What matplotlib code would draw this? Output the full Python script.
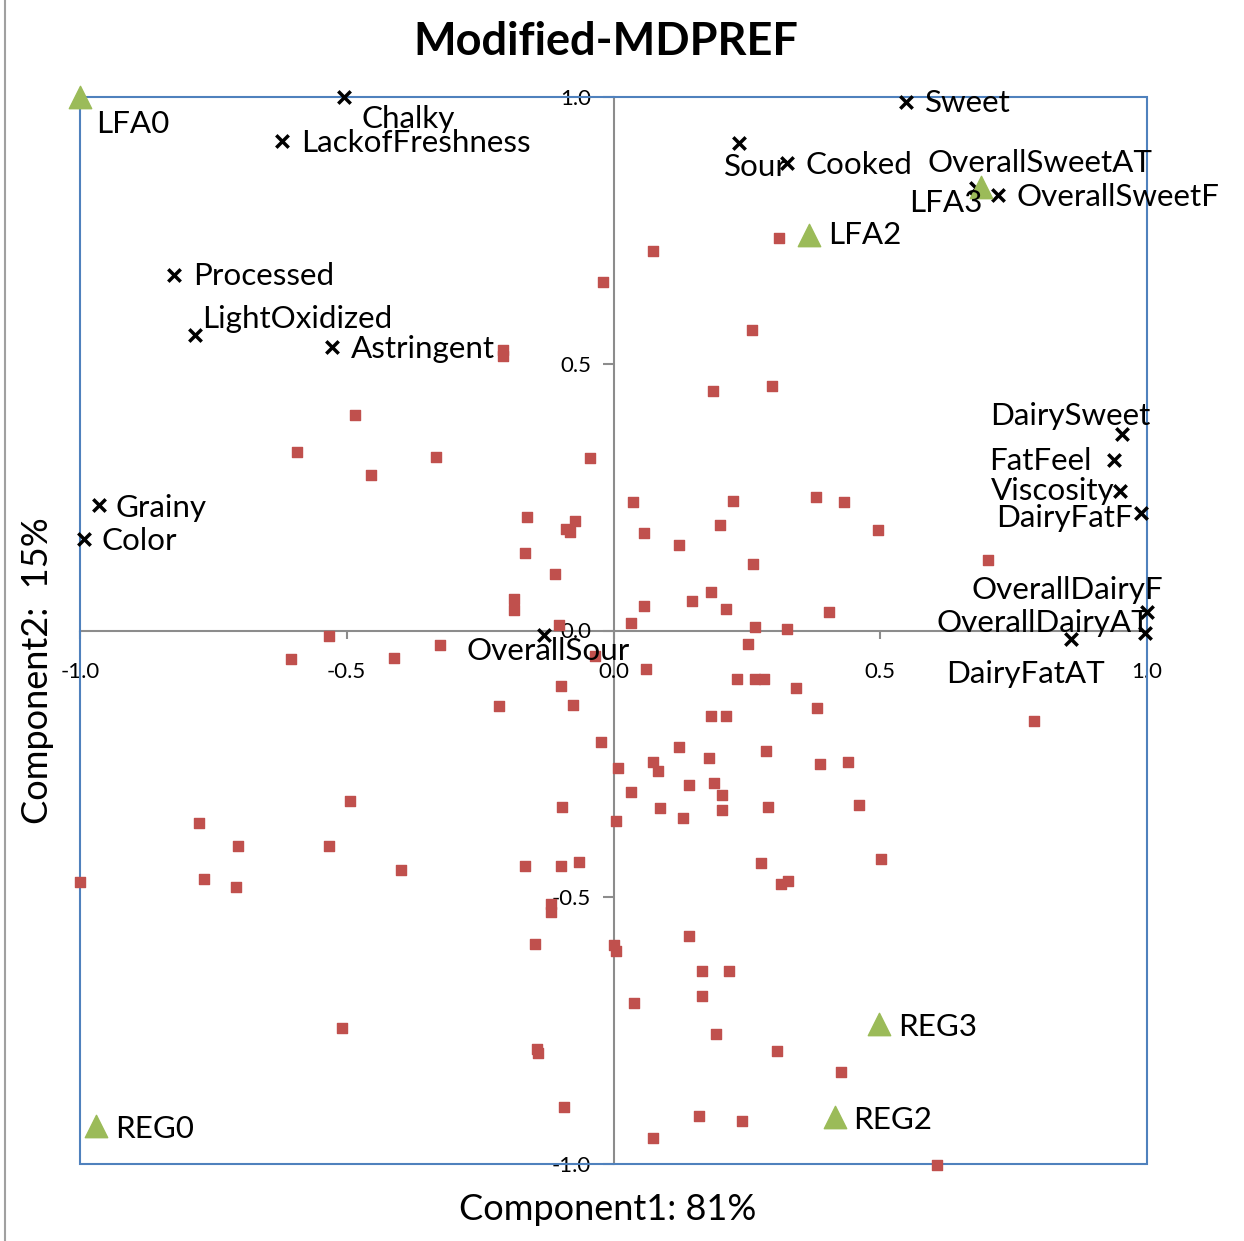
import matplotlib
matplotlib.use("Agg")
import matplotlib.pyplot as plt
from matplotlib.patches import Rectangle

plt.rcParams['font.family'] = ['Lato', 'DejaVu Sans']

# products (red squares)
prod_x = [-0.020, 0.074, 0.310, 0.259, 0.186, 0.297, -0.208, -0.208, -0.485, -0.594,
          -0.332, -0.454, -0.044, -0.163, -0.072, -0.089, -0.082, -0.166, -0.110, -0.186,
          -0.186, -0.103, -0.534, -0.326, -0.604, -0.412, -0.035, -0.099, -0.214, -0.075,
          -0.023, -0.493, -0.096, -0.777, -0.704, -0.534, -0.399, -0.166, -0.099, -0.065,
          -0.768, -0.708, -1.000, -0.118, -0.118, -0.148, 0.001, 0.005, -0.508, -0.144,
          -0.141, -0.093, 0.036, 0.224, 0.380, 0.432, 0.057, 0.200, 0.495, 0.122,
          0.262, 0.182, 0.147, 0.057, 0.210, 0.404, 0.032, 0.265, 0.325, 0.702,
          0.252, 0.061, 0.231, 0.265, 0.283, 0.342, 0.381, 0.182, 0.210, 0.123,
          0.286, 0.179, 0.074, 0.387, 0.439, 0.009, 0.084, 0.141, 0.189, 0.032,
          0.203, 0.088, 0.130, 0.203, 0.290, 0.460, 0.005, 0.276, 0.502, 0.328,
          0.314, 0.788, 0.141, 0.165, 0.217, 0.165, 0.039, 0.192, 0.307, 0.426,
          0.161, 0.241, 0.074, 0.606]
prod_y = [0.653, 0.712, 0.736, 0.563, 0.448, 0.458, 0.525, 0.514, 0.403, 0.334,
          0.326, 0.292, 0.323, 0.213, 0.205, 0.191, 0.184, 0.146, 0.105, 0.059,
          0.038, 0.010, -0.010, -0.028, -0.054, -0.051, -0.047, -0.104, -0.142, -0.139,
          -0.209, -0.320, -0.330, -0.361, -0.403, -0.403, -0.448, -0.442, -0.442, -0.434,
          -0.465, -0.480, -0.472, -0.513, -0.528, -0.587, -0.590, -0.601, -0.746, -0.785,
          -0.792, -0.894, 0.240, 0.243, 0.250, 0.240, 0.183, 0.198, 0.188, 0.160,
          0.125, 0.073, 0.055, 0.045, 0.041, 0.034, 0.014, 0.006, 0.003, 0.133,
          -0.025, -0.073, -0.090, -0.090, -0.090, -0.108, -0.146, -0.160, -0.160, -0.219,
          -0.226, -0.239, -0.247, -0.250, -0.247, -0.257, -0.264, -0.289, -0.285, -0.302,
          -0.309, -0.333, -0.351, -0.337, -0.330, -0.328, -0.358, -0.435, -0.428, -0.469,
          -0.475, -0.169, -0.573, -0.639, -0.639, -0.685, -0.699, -0.757, -0.789, -0.827,
          -0.910, -0.920, -0.952, -1.001]

# attributes (black crosses)
attr_names = ['Chalky', 'LackofFreshness', 'Processed', 'LightOxidized', 'Astringent',
              'Grainy', 'Color', 'OverallSour', 'Sweet', 'Sour', 'Cooked',
              'OverallSweetAT', 'OverallSweetF', 'DairySweet', 'FatFeel', 'Viscosity',
              'DairyFatF', 'OverallDairyF', 'OverallDairyAT', 'DairyFatAT']
attr_x = [-0.506, -0.622, -0.824, -0.785, -0.528, -0.965, -0.993, -0.131, 0.548, 0.235,
          0.325, 0.680, 0.721, 0.954, 0.938, 0.949, 0.989, 1.000, 0.997, 0.858]
attr_y = [1.000, 0.917, 0.666, 0.553, 0.532, 0.236, 0.171, -0.009, 0.990, 0.913,
          0.876, 0.829, 0.816, 0.368, 0.319, 0.261, 0.220, 0.034, -0.005, -0.015]

# consumer segments (green triangles)
seg_names = ['LFA0', 'LFA2', 'LFA3', 'REG0', 'REG2', 'REG3']
seg_x = [-1.000, 0.366, 0.689, -0.970, 0.415, 0.497]
seg_y = [1.000, 0.741, 0.832, -0.929, -0.911, -0.737]

ticks = [-1.0, -0.5, 0.0, 0.5, 1.0]

# label offsets in pixels (dx, dy, ha)
offs = {
    'Chalky': (18, -22, 'left'), 'LackofFreshness': (19, -2, 'left'),
    'Processed': (19, -1, 'left'), 'LightOxidized': (7, 16, 'left'),
    'Astringent': (19, -2, 'left'), 'Grainy': (17, -3, 'left'),
    'Color': (18, -2, 'left'), 'OverallSour': (-77, -16, 'left'),
    'Sweet': (19, -1, 'left'), 'Sour': (-15, -24, 'left'),
    'Cooked': (19, -2, 'left'), 'OverallSweetAT': (-49, 25, 'left'),
    'OverallSweetF': (18, -2, 'left'), 'DairySweet': (28, 18, 'right'),
    'FatFeel': (-22, -1, 'right'), 'Viscosity': (-5, 0, 'right'),
    'DairyFatF': (-8, -5, 'right'), 'OverallDairyF': (16, 22, 'right'),
    'OverallDairyAT': (5, 10, 'right'), 'DairyFatAT': (34, -35, 'right'),
    'LFA0': (16, -27, 'left'), 'LFA2': (19, 0, 'left'),
    'LFA3': (1, -16, 'right'), 'REG0': (19, -3, 'left'),
    'REG2': (18, -3, 'left'), 'REG3': (19, -3, 'left'),
}

fig = plt.figure(figsize=(12.44, 12.41), dpi=100)
ax = fig.add_axes([80/1244, 77/1241, 1067/1244, 1067/1241])
ax.set_xlim(-1, 1)
ax.set_ylim(-1, 1)

ax.scatter(prod_x, prod_y, marker='s', s=55, color='#C0504D', zorder=3, clip_on=False)
ax.scatter(attr_x, attr_y, marker='x', s=80, color='black', linewidths=2.5, zorder=4, clip_on=False)
ax.scatter(seg_x, seg_y, marker='^', s=260, color='#9BBB59', zorder=4, clip_on=False)

for n, x, y in list(zip(attr_names, attr_x, attr_y)) + list(zip(seg_names, seg_x, seg_y)):
    dx, dy, ha = offs[n]
    ax.annotate(n, (x, y), xytext=(dx, dy), textcoords='offset pixels',
                ha=ha, va='center', fontsize=22.6, zorder=5, annotation_clip=False)

# axes through the origin
for s in ['top', 'right']:
    ax.spines[s].set_visible(False)
for s in ['left', 'bottom']:
    ax.spines[s].set_position(('data', 0))
    ax.spines[s].set_color('#8C8C8C')
    ax.spines[s].set_linewidth(1.5)
    ax.spines[s].set_zorder(1)
ax.set_xticks(ticks)
ax.set_yticks(ticks)
ax.set_xticklabels([f'{t:.1f}' for t in ticks])
ax.set_yticklabels([f'{t:.1f}' for t in ticks])
ax.tick_params(axis='x', direction='out', length=6, width=1.5, color='#8C8C8C',
               labelsize=16, pad=17)
ax.tick_params(axis='y', direction='out', length=8, width=1.5, color='#8C8C8C',
               labelsize=16, pad=8)
ax.add_patch(Rectangle((0, 0), 1, 1, transform=ax.transAxes, fill=False,
                       edgecolor='#4F81BD', linewidth=1.5, clip_on=False, zorder=2))

fig.text(606/1244, 1 - 42/1241, 'Modified-MDPREF', ha='center', va='center',
         fontsize=32.5, fontweight='bold')
fig.text(608/1244, 1 - 1210/1241, 'Component1: 81%', ha='center', va='center', fontsize=26)
fig.text(38/1244, 1 - 671/1241, 'Component2:  15%', ha='center', va='center',
         fontsize=26, rotation=90)

fig.add_artist(plt.Line2D([5/1244, 5/1244], [0, 1], transform=fig.transFigure,
                          color='#A0A0A0', linewidth=1.5))

fig.savefig('out.png', dpi=100)
